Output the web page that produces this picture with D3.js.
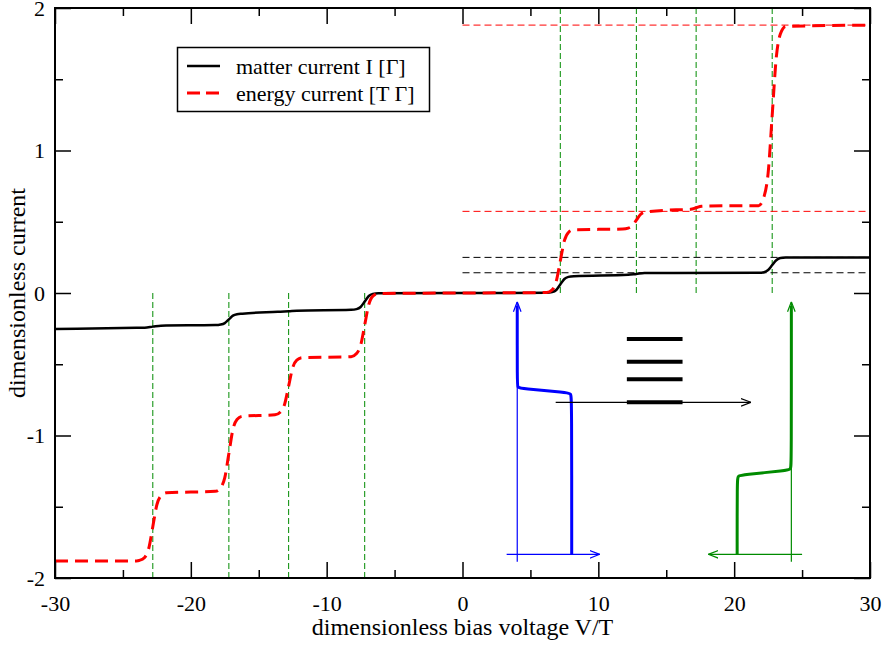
<!DOCTYPE html>
<html>
<head>
<meta charset="utf-8">
<script src="https://cdn.jsdelivr.net/npm/d3@7"></script>
<style>
  body { margin: 0; background: #fff; }
  svg { display: block; font-family: "Liberation Serif", "DejaVu Serif", serif; }
</style>
</head>
<body>
<div id="chart"></div>
<script>
// axis ticks
const xMajor = [-30, -20, -10, 0, 10, 20, 30];
const xMinor = [-25, -15, -5, 5, 15, 25];
const yMajor = [-2, -1, 0, 1, 2];
const yMinor = [-1.5, -0.5, 0.5, 1.5];

// resonance positions (green dashed) and reference levels
const resonances = [-22.8, -17.2, -12.8, -7.2, 7.2, 12.8, 17.2, 22.8];
const redLevels = [1.88, 0.573];
const blackLevels = [0.25, 0.142];

// matter current I
const matterCurrent = [
  [-30, -0.252], [-24, -0.244], [-23.4, -0.243], [-22.8, -0.236], [-22.2, -0.229],
  [-18.2, -0.225], [-17.8, -0.221], [-17.5, -0.211], [-17.2, -0.185], [-16.9, -0.159],
  [-16.6, -0.149], [-16.2, -0.145], [-13.6, -0.132], [-13.4, -0.131], [-12.8, -0.128],
  [-12.2, -0.124], [-8.2, -0.118], [-7.8, -0.113], [-7.5, -0.098], [-7.2, -0.060],
  [-6.9, -0.021], [-6.6, -0.006], [-6.2, -0.001], [0, 0], [6.2, 0.001], [6.6, 0.006],
  [6.9, 0.021], [7.2, 0.060], [7.5, 0.098], [7.8, 0.113], [8.2, 0.118], [12.2, 0.128],
  [12.8, 0.134], [13.4, 0.140], [21.8, 0.142], [22.2, 0.146], [22.5, 0.161],
  [22.8, 0.196], [23.1, 0.230], [23.4, 0.245], [23.8, 0.249], [30, 0.25]
];

// energy current
const energyCurrent = [
  [-30, -1.881], [-24, -1.880], [-23.8, -1.877], [-23.4, -1.856], [-23.1, -1.793],
  [-22.8, -1.640], [-22.5, -1.486], [-22.2, -1.423], [-21.8, -1.402], [-18.2, -1.392],
  [-17.8, -1.366], [-17.5, -1.296], [-17.2, -1.127], [-16.9, -0.957], [-16.6, -0.888],
  [-16.2, -0.865], [-13.8, -0.855], [-13.4, -0.835], [-13.1, -0.782], [-12.8, -0.653],
  [-12.5, -0.524], [-12.2, -0.471], [-11.8, -0.454], [-8.2, -0.447], [-7.8, -0.425],
  [-7.5, -0.367], [-7.2, -0.224], [-6.9, -0.081], [-6.6, -0.022], [-6.2, -0.003],
  [0, 0], [6.2, 0.003], [6.6, 0.022], [6.9, 0.081], [7.2, 0.224], [7.5, 0.367],
  [7.8, 0.425], [8.2, 0.444], [11.8, 0.449], [12.2, 0.455], [12.5, 0.471], [12.8, 0.511],
  [13.1, 0.551], [13.4, 0.567], [13.8, 0.572], [16.2, 0.585], [16.8, 0.587], [17.2, 0.598],
  [17.6, 0.609], [18.2, 0.611], [21.8, 0.613], [22.2, 0.676], [22.5, 0.841], [22.8, 1.247],
  [23.1, 1.652], [23.4, 1.817], [23.8, 1.871], [30, 1.88]
];

// inset sketch (left lead, dot levels, right lead), in data units
const leftAxisV = [[4.03, -1.886], [4.03, -0.061]];
const leftAxisH = [[3.25, -1.834], [10.1, -1.834]];
const leftFermi = [
  [4.03, -0.09], [4.03, -0.64], [4.06, -0.662], [4.3, -0.671], [7.7, -0.697],
  [7.98, -0.706], [8.04, -0.74], [8.04, -1.834]
];
const rightAxisV = [[24.21, -1.886], [24.21, -0.061]];
const rightAxisH = [[25.0, -1.834], [18.1, -1.834]];
const rightFermi = [
  [20.22, -1.834], [20.22, -1.31], [20.28, -1.283], [20.6, -1.275], [23.9, -1.246],
  [24.17, -1.237], [24.21, -1.2], [24.21, -0.09]
];
const dotLevels = [-0.323, -0.482, -0.606, -0.767];
const dotLevelSpan = [12.1, 16.2];
const transportArrow = [[6.86, -0.767], [21.24, -0.767]];

const width = 890;
const height = 646;
const marginLeft = 55;
const marginRight = 20;
const marginTop = 8;
const marginBottom = 68;

const x = d3.scaleLinear()
  .domain([-30, 30])
  .range([marginLeft, width - marginRight]);

const y = d3.scaleLinear()
  .domain([-2, 2])
  .range([height - marginBottom, marginTop]);

const svg = d3.select('#chart').append('svg')
  .attr('width', width)
  .attr('height', height)
  .attr('viewBox', [0, 0, width, height]);

svg.append('rect')
  .attr('width', width).attr('height', height).attr('fill', '#fff');

// open arrow heads
const defs = svg.append('defs');
[['blue', '#0000ff'], ['green', '#008b00'], ['black', '#000']].forEach(([name, col]) => {
  defs.append('marker')
    .attr('id', `arrow-${name}`)
    .attr('viewBox', '0 0 10 10')
    .attr('refX', 10).attr('refY', 5)
    .attr('markerWidth', 10).attr('markerHeight', 10)
    .attr('markerUnits', 'userSpaceOnUse')
    .attr('orient', 'auto')
    .append('path')
      .attr('d', 'M0,1.2 L10,5 L0,8.8')
      .attr('fill', 'none')
      .attr('stroke', col)
      .attr('stroke-width', 1.2);
});

defs.append('clipPath').attr('id', 'plot-clip')
  .append('rect')
    .attr('x', marginLeft).attr('y', marginTop)
    .attr('width', width - marginLeft - marginRight)
    .attr('height', height - marginTop - marginBottom);

const plot = svg.append('g').attr('clip-path', 'url(#plot-clip)');

// green resonance lines
plot.append('g').selectAll('line')
  .data(resonances)
  .join('line')
    .attr('x1', (d) => x(d)).attr('x2', (d) => x(d))
    .attr('y1', y(0))
    .attr('y2', (d) => d > 0 ? y(2) : y(-2))
    .attr('stroke', '#008b00')
    .attr('stroke-width', 1)
    .attr('stroke-dasharray', '6,3');

// reference levels from V = 0
plot.append('g').selectAll('line')
  .data(redLevels.map((v) => ({v, c: '#ff0000'})).concat(blackLevels.map((v) => ({v, c: '#000'}))))
  .join('line')
    .attr('x1', x(0)).attr('x2', x(30))
    .attr('y1', (d) => y(d.v)).attr('y2', (d) => y(d.v))
    .attr('stroke', (d) => d.c)
    .attr('stroke-width', 1)
    .attr('stroke-dasharray', '7,4');

const line = d3.line()
  .x((d) => x(d[0]))
  .y((d) => y(d[1]))
  .curve(d3.curveMonotoneX);

plot.append('path')
  .datum(matterCurrent)
  .attr('d', line)
  .attr('fill', 'none')
  .attr('stroke', '#000')
  .attr('stroke-width', 2.5);

plot.append('path')
  .datum(energyCurrent)
  .attr('d', line)
  .attr('fill', 'none')
  .attr('stroke', '#ff0000')
  .attr('stroke-width', 3)
  .attr('stroke-dasharray', '13,7');

// inset sketch
const straight = d3.line().x((d) => x(d[0])).y((d) => y(d[1]));
const smooth = d3.line().x((d) => x(d[0])).y((d) => y(d[1])).curve(d3.curveBasis);

const inset = svg.append('g');

function arrow(pts, col, name) {
  inset.append('path')
    .attr('d', straight(pts))
    .attr('fill', 'none')
    .attr('stroke', col)
    .attr('stroke-width', 1.2)
    .attr('marker-end', `url(#arrow-${name})`);
}

arrow(leftAxisV, '#0000ff', 'blue');
arrow(leftAxisH, '#0000ff', 'blue');
arrow(rightAxisV, '#008b00', 'green');
arrow(rightAxisH, '#008b00', 'green');

inset.append('path')
  .attr('d', smooth(leftFermi))
  .attr('fill', 'none').attr('stroke', '#0000ff').attr('stroke-width', 3);

inset.append('path')
  .attr('d', smooth(rightFermi))
  .attr('fill', 'none').attr('stroke', '#008b00').attr('stroke-width', 3);

inset.append('g').selectAll('line')
  .data(dotLevels)
  .join('line')
    .attr('x1', x(dotLevelSpan[0])).attr('x2', x(dotLevelSpan[1]))
    .attr('y1', (d) => y(d)).attr('y2', (d) => y(d))
    .attr('stroke', '#000')
    .attr('stroke-width', 4);

arrow(transportArrow, '#000', 'black');

// axes with inward ticks on all four sides
const fmt = (d) => String(d);

function ticks(axis, values, size, labels) {
  return axis.tickValues(values).tickSize(size).tickFormat(labels ? fmt : '');
}

const axisStyle = (g) => {
  g.select('.domain').remove();
  g.selectAll('.tick line').attr('stroke', '#000').attr('stroke-width', 1.5);
  g.selectAll('.tick text')
    .attr('fill', '#000')
    .attr('font-size', 22)
    .attr('font-family', '"Liberation Serif", serif');
};

const bottom = height - marginBottom;
const right = width - marginRight;

svg.append('g')
  .attr('transform', `translate(0,${bottom})`)
  .call(ticks(d3.axisBottom(x), xMajor, -16, true).tickPadding(17))
  .call(axisStyle);
svg.append('g')
  .attr('transform', `translate(0,${bottom})`)
  .call(ticks(d3.axisBottom(x), xMinor, -8, false))
  .call(axisStyle);
svg.append('g')
  .attr('transform', `translate(0,${marginTop})`)
  .call(ticks(d3.axisTop(x), xMajor, -16, false))
  .call(axisStyle);
svg.append('g')
  .attr('transform', `translate(0,${marginTop})`)
  .call(ticks(d3.axisTop(x), xMinor, -8, false))
  .call(axisStyle);

svg.append('g')
  .attr('transform', `translate(${marginLeft},0)`)
  .call(ticks(d3.axisLeft(y), yMajor, -16, true).tickPadding(10))
  .call(axisStyle);
svg.append('g')
  .attr('transform', `translate(${marginLeft},0)`)
  .call(ticks(d3.axisLeft(y), yMinor, -8, false))
  .call(axisStyle);
svg.append('g')
  .attr('transform', `translate(${right},0)`)
  .call(ticks(d3.axisRight(y), yMajor, -16, false))
  .call(axisStyle);
svg.append('g')
  .attr('transform', `translate(${right},0)`)
  .call(ticks(d3.axisRight(y), yMinor, -8, false))
  .call(axisStyle);

// frame
svg.append('rect')
  .attr('x', marginLeft).attr('y', marginTop)
  .attr('width', right - marginLeft).attr('height', bottom - marginTop)
  .attr('fill', 'none')
  .attr('stroke', '#000')
  .attr('stroke-width', 2);

// axis titles
svg.append('text')
  .attr('x', (marginLeft + right) / 2)
  .attr('y', 635)
  .attr('text-anchor', 'middle')
  .attr('font-size', 24)
  .text('dimensionless bias voltage V/T');

svg.append('text')
  .attr('transform', `translate(25,${(marginTop + bottom) / 2}) rotate(-90)`)
  .attr('text-anchor', 'middle')
  .attr('font-size', 24)
  .text('dimensionless current');

// legend
const legend = svg.append('g');
legend.append('rect')
  .attr('x', 177.5).attr('y', 47.5)
  .attr('width', 252).attr('height', 64)
  .attr('fill', '#fff')
  .attr('stroke', '#000')
  .attr('stroke-width', 1.5);

const legendItems = [
  {label: 'matter current I [Γ]', color: '#000', dash: null, w: 2.5},
  {label: 'energy current [T Γ]', color: '#ff0000', dash: '13,6', w: 3}
];

legend.selectAll('g.item')
  .data(legendItems)
  .join('g')
    .attr('class', 'item')
    .attr('transform', (d, i) => `translate(0,${66 + i * 27})`)
    .each(function(d) {
      const g = d3.select(this);
      g.append('line')
        .attr('x1', 187).attr('x2', 220)
        .attr('stroke', d.color)
        .attr('stroke-width', d.w)
        .attr('stroke-dasharray', d.dash);
      g.append('text')
        .attr('x', 236)
        .attr('y', 7.5)
        .attr('font-size', 22)
        .text(d.label);
    });
</script>
</body>
</html>
